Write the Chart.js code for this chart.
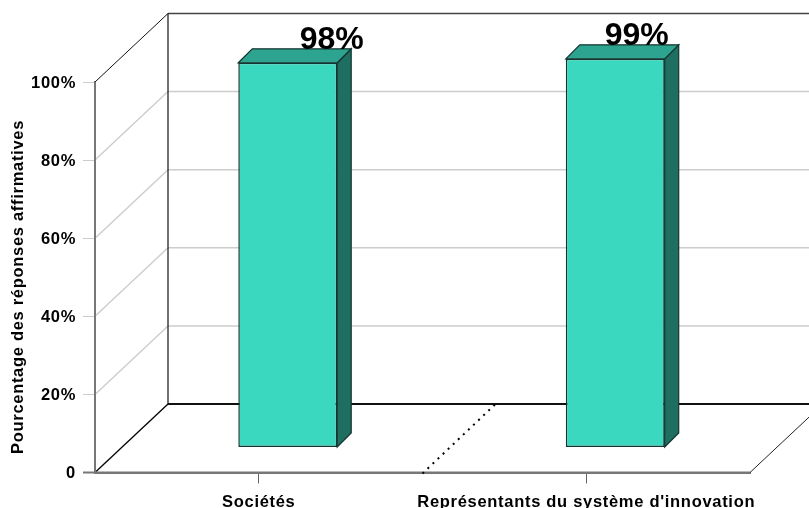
<!DOCTYPE html>
<html>
<head>
<meta charset="utf-8">
<style>
  html, body { margin: 0; padding: 0; background: #fff; overflow: hidden; }
  #wrap { width: 809px; height: 508px; }
</style>
<script src="https://cdn.jsdelivr.net/npm/chart.js@4"></script>
</head>
<body>
<div id="wrap"><canvas id="chart" width="809" height="508"></canvas></div>
<script>
const categories = ["Sociétés", "Représentants du système d'innovation"];
const values = [98, 99];
const valueLabels = ["98%", "99%"];
const tickValues = [0, 20, 40, 60, 80, 100];
const tickLabels = ["0", "20%", "40%", "60%", "80%", "100%"];
const axisTitle = "Pourcentage des réponses affirmatives";

// perspective offsets of the box
const wallDx = 73, wallDy = -68.5;
const barShiftX = 29;
const barDepth = 14;
const labelShiftX = [44, 21.5];

const faceFront = "#3bd8c0", faceTop = "#2ca48f", faceSide = "#1e6e61", edge = "#14352f";
const gridColor = "#cccccc", axisColor = "#777777";
const fontName = "'Liberation Sans', Arial, sans-serif";
const axisFontSize = 16.5;

function line(ctx, x1, y1, x2, y2, color, width, dash) {
    ctx.beginPath();
    ctx.strokeStyle = color;
    ctx.lineWidth = width;
    ctx.setLineDash(dash || []);
    ctx.moveTo(x1, y1);
    ctx.lineTo(x2, y2);
    ctx.stroke();
    ctx.setLineDash([]);
}

function poly(ctx, pts, fill) {
    ctx.beginPath();
    pts.forEach((p, i) => i ? ctx.lineTo(p[0], p[1]) : ctx.moveTo(p[0], p[1]));
    ctx.closePath();
    ctx.fillStyle = fill;
    ctx.fill();
    ctx.strokeStyle = edge;
    ctx.lineWidth = 1.2;
    ctx.stroke();
}

const box3d = {
    id: "box3d",
    beforeDraw(chart) {
        // axis text is spaced out a little wider than the font's default
        chart.ctx.letterSpacing = "0.7px";
    },
    beforeDatasetsDraw(chart) {
        const { ctx, chartArea: a, scales } = chart;
        const y = scales.y, x = scales.x;
        ctx.save();

        // back wall and side wall gridlines
        tickValues.forEach(v => {
            const py = y.getPixelForValue(v);
            if (v > 0 && v < 100) {
                line(ctx, a.left, py, a.left + wallDx, py + wallDy, gridColor, 1.4);
                line(ctx, a.left + wallDx, py + wallDy, a.right + wallDx, py + wallDy, gridColor, 1.5);
            }
        });
        const backX = a.left + wallDx;
        line(ctx, backX, a.top + wallDy, a.right + wallDx, a.top + wallDy, "#444444", 1.5);
        line(ctx, backX, a.top + wallDy, backX, a.bottom + wallDy, "#111111", 1.2);
        line(ctx, a.left, a.top, backX, a.top + wallDy, "#111111", 1);
        line(ctx, a.left, a.bottom, backX, a.bottom + wallDy, "#000000", 1.3);
        line(ctx, backX, a.bottom + wallDy, a.right + wallDx, a.bottom + wallDy, "#111111", 2);
        line(ctx, a.right, a.bottom, a.right + wallDx, a.bottom + wallDy, "#222222", 1);

        // front edges of the box
        line(ctx, a.left, a.top, a.left, a.bottom, axisColor, 2);
        line(ctx, a.left - 12, a.bottom, a.right, a.bottom, axisColor, 2);

        // dotted divider between the two categories on the floor
        const midX = (x.getPixelForValue(0) + x.getPixelForValue(1)) / 2;
        line(ctx, midX, a.bottom + 1, midX + wallDx, a.bottom + wallDy, "#000000", 2, [2, 5]);

        // side and top faces sit behind the library's bars
        ctx.translate(barShiftX, 0);
        chart.getDatasetMeta(0).data.forEach(bar => {
            const l = bar.x - bar.width / 2, r = bar.x + bar.width / 2;
            poly(ctx, [[r, bar.y], [r + barDepth, bar.y - barDepth], [r + barDepth, bar.base - barDepth], [r, bar.base]], faceSide);
            poly(ctx, [[l, bar.y], [l + barDepth, bar.y - barDepth], [r + barDepth, bar.y - barDepth], [r, bar.y]], faceTop);
        });
    },
    afterDatasetsDraw(chart) {
        const { ctx } = chart;
        ctx.restore();
        ctx.save();
        ctx.font = "bold " + axisFontSize + "px " + fontName;
        ctx.fillStyle = "#000";
        ctx.textAlign = "center";
        ctx.textBaseline = "middle";

        // axis title sits lower than the middle of the axis
        ctx.save();
        ctx.translate(18, 287);
        ctx.rotate(-Math.PI / 2);
        ctx.fillText(axisTitle, 0, 0);
        ctx.restore();

        ctx.letterSpacing = "0px";
        ctx.font = "bold 32px " + fontName;
        ctx.textBaseline = "alphabetic";
        chart.getDatasetMeta(0).data.forEach((bar, i) => {
            ctx.fillText(valueLabels[i], bar.x + barShiftX + labelShiftX[i], bar.y - barDepth);
        });
        ctx.restore();
    }
};

new Chart(document.querySelector("#chart"), {
    type: "bar",
    data: {
        labels: categories,
        datasets: [{
            data: values,
            yAxisID: "yBar",
            backgroundColor: faceFront,
            borderColor: edge,
            borderWidth: 1.5,
            borderSkipped: false,
            barPercentage: 0.302,
            categoryPercentage: 1,
            clip: false
        }]
    },
    options: {
        responsive: false,
        animation: false,
        layout: { padding: { left: 0, top: 82, right: 59, bottom: 0 } },
        plugins: { legend: { display: false }, tooltip: { enabled: false } },
        scales: {
            x: {
                grid: { drawOnChartArea: false, color: "#666666", tickLength: 11, offset: false },
                border: { color: axisColor, width: 2 },
                ticks: { color: "#000", font: { family: fontName, weight: "bold", size: axisFontSize }, maxRotation: 0, autoSkip: false, padding: 9 },
                afterFit(scale) { scale.height = 35.5; }
            },
            y: {
                min: 0,
                max: 100,
                afterBuildTicks(scale) { scale.ticks = tickValues.map(v => ({ value: v })); },
                grid: { drawOnChartArea: false, color: gridColor, tickLength: 12 },
                border: { color: axisColor, width: 2 },
                ticks: {
                    color: "#000",
                    font: { family: fontName, weight: "bold", size: axisFontSize },
                    padding: 7,
                    labelOffset: 1,
                    callback: (v) => tickLabels[tickValues.indexOf(v)]
                },
                afterFit(scale) { scale.width = 95; }
            },
            // bars stand on a floor set back from the front axis
            yBar: { display: false, min: -6.5, max: 93.1 }
        }
    },
    plugins: [box3d]
});
</script>
</body>
</html>
